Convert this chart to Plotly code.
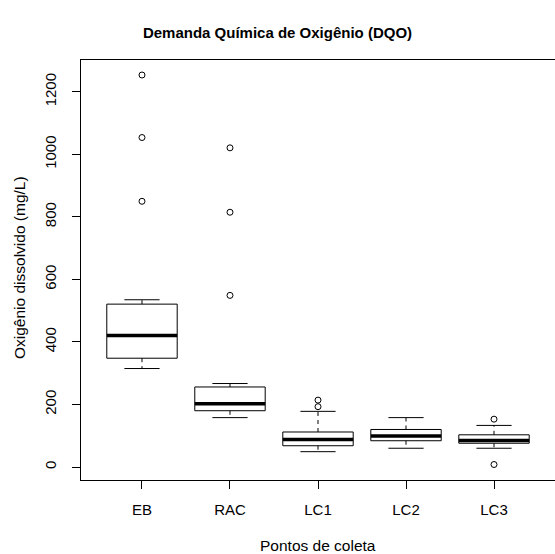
import plotly.graph_objects as go

grupos = ['EB', 'RAC', 'LC1', 'LC2', 'LC3']
q1 = [348, 180, 68, 84, 76]
mediana = [421, 202, 88, 99, 85]
q3 = [521, 256, 112, 120, 103]
lim_inf = [315, 158, 49, 60, 60]
lim_sup = [535, 267, 178, 158, 133]
outliers = {
    'EB': [850, 1054, 1254],
    'RAC': [549, 815, 1021],
    'LC1': [193, 214],
    'LC2': [],
    'LC3': [8, 153],
}

larg = 0.4    # meia largura da caixa
cap = 0.2     # meia largura do traço do bigode

fig = go.Figure()

for i, g in enumerate(grupos):
    x = i + 1
    # caixa
    fig.add_trace(go.Scatter(x=[x - larg, x + larg, x + larg, x - larg, x - larg],
                             y=[q1[i], q1[i], q3[i], q3[i], q1[i]],
                             mode='lines', fill='toself', fillcolor='white',
                             line=dict(color='black', width=1), hoverinfo='skip'))
    # bigodes (tracejados)
    fig.add_trace(go.Scatter(x=[x, x, None, x, x],
                             y=[q3[i], lim_sup[i], None, q1[i], lim_inf[i]],
                             mode='lines', line=dict(color='black', width=1, dash='4px,4px')))
    # extremos
    fig.add_trace(go.Scatter(x=[x - cap, x + cap, None, x - cap, x + cap],
                             y=[lim_sup[i], lim_sup[i], None, lim_inf[i], lim_inf[i]],
                             mode='lines', line=dict(color='black', width=1)))
    # mediana
    fig.add_trace(go.Scatter(x=[x - larg, x + larg], y=[mediana[i], mediana[i]],
                             mode='lines', line=dict(color='black', width=3.5)))
    # outliers
    if outliers[g]:
        fig.add_trace(go.Scatter(x=[x] * len(outliers[g]), y=outliers[g], mode='markers',
                                 marker=dict(symbol='circle-open', size=6, color='black',
                                             line=dict(width=1))))

fig.update_layout(
    template='none',
    width=555, height=554,
    margin=dict(l=81, r=0, t=60, b=74, pad=0),
    paper_bgcolor='white', plot_bgcolor='white',
    showlegend=False,
    font=dict(family='Liberation Sans, Arial', size=15, color='black'),
    title=dict(text='<b>Demanda Química de Oxigênio (DQO)</b>', x=0.5, xanchor='center',
               y=1 - 33 / 554, yanchor='middle', yref='container',
               font=dict(size=15)),
    xaxis=dict(range=[0.307, 5.693], tickvals=[1, 2, 3, 4, 5], ticktext=grupos,
               showgrid=False, zeroline=False, showline=True, linecolor='black',
               linewidth=1, mirror=True, ticks='outside', ticklen=8, tickcolor='black',
               automargin=False, ticklabelstandoff=8),
    yaxis=dict(range=[-41.6, 1302], tickvals=[0, 200, 400, 600, 800, 1000, 1200],
               showgrid=False, zeroline=False, showline=True, linecolor='black',
               linewidth=1, ticks='outside', ticklen=8, tickcolor='black', tickangle=-90,
               automargin=False, ticklabelstandoff=10),
    annotations=[
        dict(text='Pontos de coleta', xref='paper', yref='paper', x=0.5, y=-(545 - 480) / 420,
             xanchor='center', yanchor='middle', showarrow=False, font=dict(size=15.5)),
        dict(text='Oxigênio dissolvido (mg/L)', xref='paper', yref='paper',
             x=-(81 - 19) / 474, y=(480 - 268) / 420, xanchor='center', yanchor='middle',
             textangle=-90, showarrow=False, font=dict(size=15.5)),
    ],
)

fig.write_html("out.html", config={'displayModeBar': False},
               post_script="document.body.style.margin='0';")
